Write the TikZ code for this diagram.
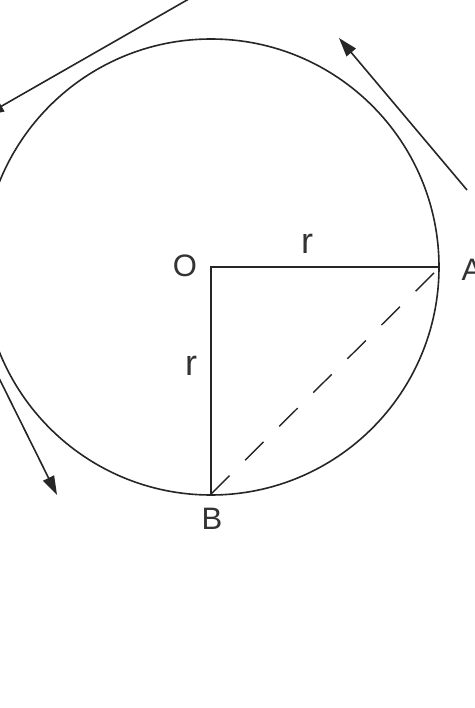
\documentclass[tikz,border=0pt]{standalone}
\usepackage{fontspec}
\setmainfont{Liberation Sans}
\usetikzlibrary{arrows.meta}
\begin{document}
\begin{tikzpicture}[x=1pt,y=-1pt, line width=1.6pt, draw=black!85,
  lbl/.style={font=\fontsize{31}{31}\selectfont, inner sep=0pt, text=black!80},
  rlbl/.style={font=\fontsize{36}{36}\selectfont, inner sep=0pt, text=black!80},
  arr/.style={-{Triangle[length=19pt,width=12pt]}},
  dashline/.style={dash pattern=on 26pt off 22pt, line width=1.4pt}]
\useasboundingbox (0,0) rectangle (474,708);
\clip (0,0) rectangle (474,708);
\fill[white] (0,0) rectangle (474,708);
\coordinate (O) at (211,267);
\coordinate (A) at (440,267);
\coordinate (B) at (211,494);
\draw (O) circle[radius=228];
\draw (A) -- (O) -- (B);
\draw[dashline] (B) -- (A);
% tangent arrows
\coordinate (tr1) at (467,190);
\coordinate (tr2) at (339,38);
\draw[arr] (tr1) -- (tr2);
\coordinate (bl1) at (-5,370);
\coordinate (bl2) at (57,495);
\draw[arr] (bl1) -- (bl2);
\coordinate (tl1) at (200,-7.4);
\coordinate (tl2) at (-15,115.6);
\draw[arr] (tl1) -- (tl2);
% labels
\node[lbl] (lO) at (185,266) {O};
\node[lbl] (lA) at (472,270) {A};
\node[lbl] (lB) at (212,519) {B};
\node[rlbl] (r1) at (307,244) {r};
\node[rlbl] (r2) at (191,366) {r};
\end{tikzpicture}
\end{document}
